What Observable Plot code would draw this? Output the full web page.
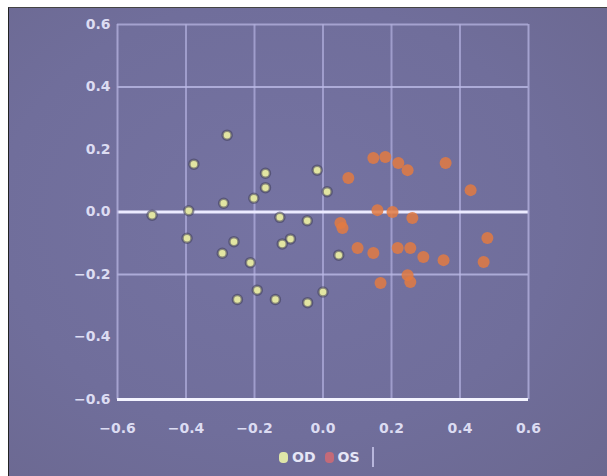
<!DOCTYPE html>
<html>
<head>
<meta charset="utf-8">
<script src="https://cdn.jsdelivr.net/npm/d3@7"></script>
<script src="https://cdn.jsdelivr.net/npm/@observablehq/plot@0.6"></script>
<style>
  html, body { margin: 0; padding: 0; background: #ffffff; }
  body { width: 607px; height: 476px; position: relative; overflow: hidden; font-family: "DejaVu Sans", sans-serif; }
  #panel { position: absolute; left: 8px; top: 7px; width: 599px; height: 469px;
           background: radial-gradient(ellipse at 45% 45%, #7573a2 0%, #706e9b 60%, #6b6890 100%);
           border-left: 1px solid #222; border-top: 1px solid #444; box-sizing: border-box; }
  #chart { position: absolute; left: 0; top: 0; }
  #chart svg { background: transparent !important; }
  g[aria-label="OS points"] circle { filter: blur(1.6px); }
  g[aria-label="OD points"] circle { filter: blur(0.5px); }
  #legend { position: absolute; left: 276px; top: 447px; height: 20px; display: flex; align-items: center;
            font: bold 14px "DejaVu Sans", sans-serif; color: #e6e6f6; padding-right: 6px;
            border-right: 2px solid #b8b6dc; }
  #legend .sw { width: 9px; height: 11px; border-radius: 4px; margin: 0 4px 0 3px; filter: blur(0.6px); }
  #legend span.t { margin-right: 6px; }
</style>
</head>
<body>
<div id="panel"></div>
<div id="chart"></div>
<div id="legend"></div>
<script>
// Tick values
const xTicks = [-0.6, -0.4, -0.2, 0.0, 0.2, 0.4, 0.6];
const yTicks = [-0.6, -0.4, -0.2, 0.0, 0.2, 0.4, 0.6];
const xGrid = [-0.4, -0.2, 0.0, 0.2, 0.4];
const yGrid = [0.4, -0.2];
const yZero = [0.0];

// Series names
const categories = ["OD", "OS"];

// OD series (x, y)
const odX = [-0.28, -0.377, -0.168, -0.168, -0.202, -0.29, -0.392, -0.499, -0.126, -0.046, -0.397, -0.26,
             -0.095, -0.119, -0.294, -0.212, -0.192, -0.25, -0.139, -0.045, 0.0, -0.017, 0.012, 0.046];
const odY = [0.246, 0.153, 0.124, 0.078, 0.044, 0.028, 0.004, -0.01, -0.017, -0.028, -0.084, -0.095,
             -0.086, -0.102, -0.132, -0.162, -0.25, -0.28, -0.28, -0.29, -0.256, 0.134, 0.065, -0.138];

// OS series (x, y)
const osX = [0.074, 0.147, 0.182, 0.220, 0.247, 0.358, 0.431, 0.159, 0.203, 0.261, 0.051, 0.057,
             0.101, 0.147, 0.218, 0.255, 0.293, 0.352, 0.247, 0.168, 0.255, 0.480, 0.469];
const osY = [0.109, 0.173, 0.176, 0.157, 0.134, 0.157, 0.070, 0.006, 0.0, -0.019, -0.035, -0.051,
             -0.115, -0.131, -0.115, -0.115, -0.144, -0.154, -0.202, -0.227, -0.224, -0.083, -0.160];

const od = odX.map((x, i) => ({x, y: odY[i], s: categories[0]}));
const os = osX.map((x, i) => ({x, y: osY[i], s: categories[1]}));

const colors = {OD: "#e2e5a2", OS: "#e27a42"};
const fmt = d3.format(".1f");

const plot = Plot.plot({
  width: 607,
  height: 476,
  marginLeft: 117,
  marginRight: 79,
  marginTop: 24,
  marginBottom: 77,
  style: {background: "transparent", fontFamily: "DejaVu Sans, sans-serif", fontSize: "14px", fontWeight: "bold", color: "#dcdcf2"},
  x: {domain: [-0.6, 0.6], ticks: xTicks, tickFormat: fmt, tickSize: 0, tickPadding: 24, label: null},
  y: {domain: [-0.6, 0.6], ticks: yTicks, tickFormat: fmt, tickSize: 0, tickPadding: 7, label: null},
  marks: [
    Plot.ruleX(xGrid, {stroke: "#b3b1e0", strokeWidth: 2, strokeOpacity: 0.7}),
    Plot.ruleY(yGrid, {stroke: "#bcbae6", strokeWidth: 2, strokeOpacity: 0.8}),
    Plot.ruleY(yZero, {stroke: "#ecebff", strokeWidth: 3}),
    Plot.ruleX([-0.6, 0.6], {stroke: "#aeacd8", strokeWidth: 2, strokeOpacity: 0.85}),
    Plot.ruleY([0.6], {stroke: "#aeacd8", strokeWidth: 2, strokeOpacity: 0.85}),
    Plot.ruleY([-0.6], {stroke: "#f4f4ff", strokeWidth: 3}),
    Plot.dot(os, {x: "x", y: "y", r: 6, fill: colors.OS, fillOpacity: 0.85, ariaLabel: "OS points"}),
    Plot.dot(od, {x: "x", y: "y", r: 4.5, fill: colors.OD, stroke: "#3e3d58", strokeWidth: 2.5, strokeOpacity: 0.55, ariaLabel: "OD points"})
  ]
});
document.getElementById("chart").appendChild(plot);

const legend = document.getElementById("legend");
categories.forEach(c => {
  const sw = document.createElement("span");
  sw.className = "sw";
  sw.style.background = c === "OD" ? "#dfe6a8" : "#c46a78";
  const t = document.createElement("span");
  t.className = "t";
  t.textContent = c;
  legend.appendChild(sw);
  legend.appendChild(t);
});
</script>
</body>
</html>
